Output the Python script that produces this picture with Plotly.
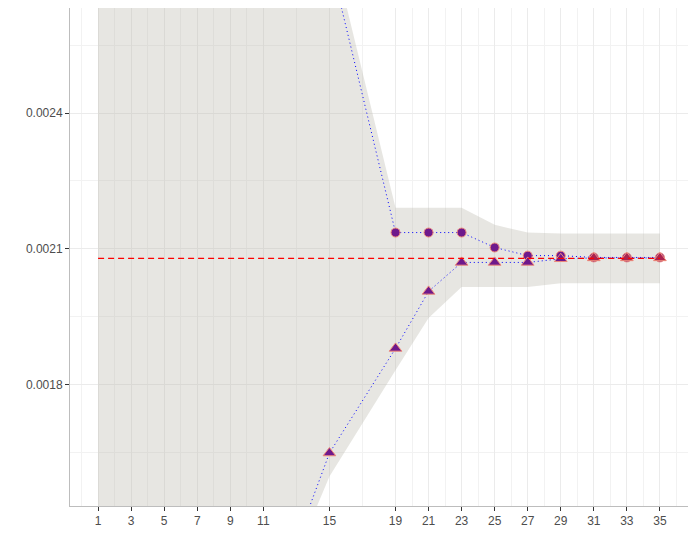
import plotly.graph_objects as go

# values
x_pts = [11, 15, 19, 21, 23, 25, 27, 29, 31, 33, 35]
upper_est = [0.00330, 0.002743, 0.002136, 0.002136, 0.002136, 0.002103,
             0.002085, 0.002085, 0.002081, 0.002081, 0.002081]
lower_est = [0.001255, 0.001649, 0.00188, 0.002006, 0.00207, 0.00207,
             0.00207, 0.002078, 0.00208, 0.00208, 0.00208]

rib_x = [1, 11, 15, 19, 21, 23, 25, 27, 29, 31, 33, 35]
rib_hi = [0.0034, 0.0034, 0.00279, 0.002191, 0.002191, 0.002191, 0.002153,
          0.002136, 0.002134, 0.002134, 0.002134, 0.002134]
rib_lo = [0.0010, 0.00125, 0.001597, 0.001832, 0.001947, 0.002016, 0.002016,
          0.002016, 0.002024, 0.002024, 0.002024, 0.002024]

ref_value = 0.002079
ref_x = [1, 35]

x_ticks = [1, 3, 5, 7, 9, 11, 15, 19, 21, 23, 25, 27, 29, 31, 33, 35]
x_minor = [0, 2, 4, 6, 8, 10, 13, 17, 20, 22, 24, 26, 28, 30, 32, 34, 36]
y_ticks = [0.0018, 0.0021, 0.0024]
y_minor = [0.00165, 0.00195, 0.00225, 0.00255]

purple = "#6e198c"
crimson = "#aa2350"
outline = "#f08a7a"

fig = go.Figure()

# confidence band
fig.add_trace(go.Scatter(
    x=rib_x + rib_x[::-1],
    y=rib_hi + rib_lo[::-1],
    fill="toself",
    fillcolor="rgba(186,184,172,0.35)",
    line=dict(width=0),
    mode="lines",
    hoverinfo="skip",
))

# dotted connecting lines
for ys in (upper_est, lower_est):
    fig.add_trace(go.Scatter(
        x=x_pts, y=ys, mode="lines",
        line=dict(color="blue", width=1, dash="1px,3px"),
        hoverinfo="skip",
    ))

# points
fig.add_trace(go.Scatter(
    x=x_pts, y=upper_est, mode="markers",
    marker=dict(symbol="circle", size=9, color=purple,
                line=dict(color=outline, width=1)),
))
tri_colors = [crimson if x >= 31 else purple for x in x_pts]
fig.add_trace(go.Scatter(
    x=x_pts, y=lower_est, mode="markers",
    marker=dict(symbol="triangle-up", size=11, color=tri_colors,
                line=dict(color=outline, width=1)),
))

# reference line
fig.add_trace(go.Scatter(
    x=ref_x, y=[ref_value, ref_value], mode="lines",
    line=dict(color="#ff0000", width=1.2, dash="6px,4px"),
    hoverinfo="skip",
))

axis_common = dict(
    showline=True, linecolor="#bdbdbd", linewidth=1, mirror=True,
    gridcolor="#ebebeb", gridwidth=1, zeroline=False,
    ticks="outside", ticklen=4, tickcolor="#333333",
    tickfont=dict(family="Liberation Sans, Arial", size=12, color="#4d4d4d"),
)

fig.update_xaxes(
    range=[-0.7, 36.7], tickmode="array", tickvals=x_ticks,
    ticktext=[str(v) for v in x_ticks],
    minor=dict(tickmode="array", tickvals=x_minor, showgrid=True,
               gridcolor="#f2f2f2", ticks=""),
    **axis_common,
)
fig.update_yaxes(
    range=[0.001532, 0.002632], tickmode="array", tickvals=y_ticks,
    ticktext=["0.0018", "0.0021", "0.0024"],
    minor=dict(tickmode="array", tickvals=y_minor, showgrid=True,
               gridcolor="#f2f2f2", ticks=""),
    **axis_common,
)

# page body adds an 8px offset, so the figure is sized to fit the window
fig.update_layout(
    width=688, height=543,
    margin=dict(l=62, r=8, t=0, b=45),
    plot_bgcolor="white", paper_bgcolor="white",
    showlegend=False,
)

fig.write_html("out.html")
